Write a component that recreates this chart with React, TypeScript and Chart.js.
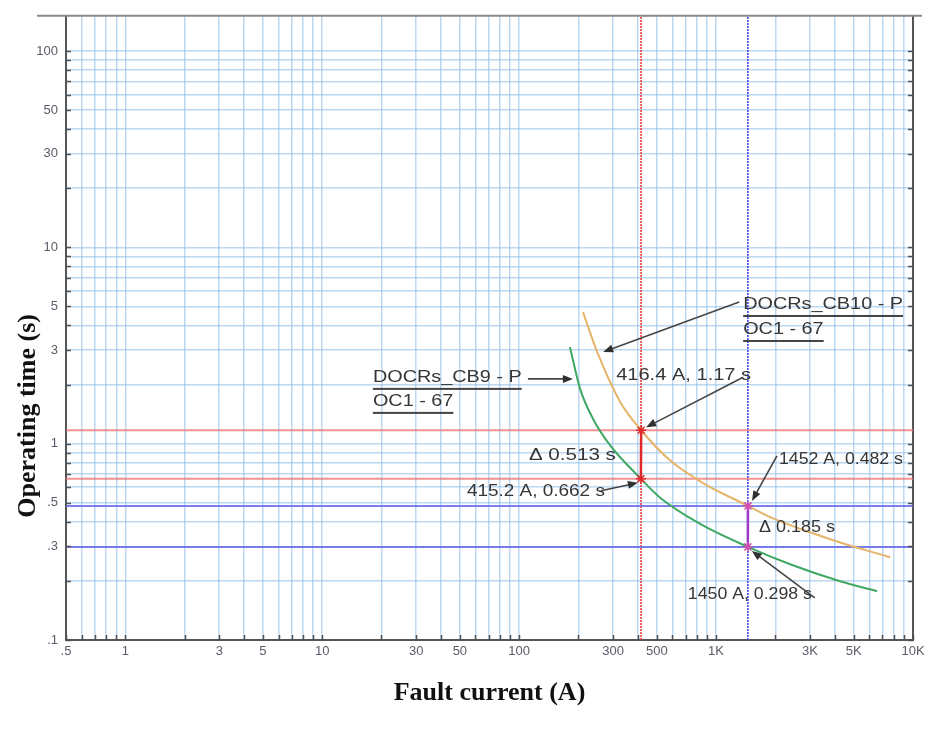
import React, { useEffect, useRef } from 'react';
import { Chart, registerables } from 'chart.js';

Chart.register(...registerables);

// ---- axis ranges and labels ----
const X_MIN = 0.5;
const X_MAX = 10000;
const Y_MIN = 0.1;
const Y_MAX = 151;

const xLabelValues = [0.5, 1, 3, 5, 10, 30, 50, 100, 300, 500, 1000, 3000, 5000, 10000];
const xLabelTexts = ['.5', '1', '3', '5', '10', '30', '50', '100', '300', '500', '1K', '3K', '5K', '10K'];
const yLabelValues = [0.1, 0.3, 0.5, 1, 3, 5, 10, 30, 50, 100];
const yLabelTexts = ['.1', '.3', '.5', '1', '3', '5', '10', '30', '50', '100'];

const xTitle = 'Fault current (A)';
const yTitle = 'Operating time (s)';

// ---- relay curves ----
const cb10Current = [211, 249, 326, 416.4, 585, 859, 1452, 1949, 2899, 4265, 7655];
const cb10Time = [4.68, 2.93, 1.63, 1.17, 0.82, 0.63, 0.482, 0.416, 0.358, 0.314, 0.264];
const cb9Current = [181, 204, 237, 290, 415.2, 520, 830, 1450, 2377, 4265, 6575];
const cb9Time = [3.11, 1.9, 1.34, 0.98, 0.662, 0.53, 0.39, 0.298, 0.243, 0.199, 0.177];

// ---- reference cursors ----
const redCursorCurrent = 416;
const redCursorTimes = [1.17, 0.662];
const blueCursorCurrent = 1450;
const blueCursorTimes = [0.482, 0.298];

// ---- marked points ----
const redPointCurrent = [416.4, 415.2];
const redPointTime = [1.17, 0.662];
const bluePointCurrent = [1452, 1450];
const bluePointTime = [0.482, 0.298];

// ---- annotation texts ----
const cb10Name = ['DOCRs_CB10 - P', 'OC1 - 67'];
const cb9Name = ['DOCRs_CB9 - P', 'OC1 - 67'];
const redUpperText = '416.4 A, 1.17 s';
const redLowerText = '415.2 A, 0.662 s';
const redDeltaText = '\u0394 0.513 s';
const blueUpperText = '1452 A, 0.482 s';
const blueLowerText = '1450 A, 0.298 s';
const blueDeltaText = '\u0394 0.185 s';

function gridValues(min: number, max: number): number[] {
  const out: number[] = [];
  for (let e = -2; e <= 5; e++) {
    for (let m = 1; m <= 9; m++) {
      const v = parseFloat((m * Math.pow(10, e)).toPrecision(6));
      if (v >= min * 0.9999 && v <= max * 1.0001) out.push(v);
    }
  }
  return out;
}

function labelFor(v: number, vals: number[], texts: string[]): string {
  for (let i = 0; i < vals.length; i++) {
    if (Math.abs(v - vals[i]) / vals[i] < 1e-6) return texts[i];
  }
  return '';
}

const pts = (xs: number[], ys: number[]) => xs.map((x, i) => ({ x, y: ys[i] }));

const TEXT_FONT = '16px "Liberation Sans", Arial, sans-serif';
const H_SCALE = 1.24;

function drawLabel(
  ctx: CanvasRenderingContext2D,
  text: string,
  x: number,
  y: number,
  underline = false,
  width = 0
) {
  ctx.save();
  ctx.font = TEXT_FONT;
  const natural = ctx.measureText(text).width;
  const sx = width > 0 ? width / natural : H_SCALE;
  ctx.translate(x, y);
  ctx.scale(sx, 1);
  ctx.textBaseline = 'middle';
  ctx.textAlign = 'left';
  ctx.fillStyle = '#363636';
  ctx.fillText(text, 0, 0);
  if (underline) {
    ctx.fillStyle = '#444';
    ctx.fillRect(0, 10, natural, 2);
  }
  ctx.restore();
}

function drawArrow(ctx: CanvasRenderingContext2D, x1: number, y1: number, x2: number, y2: number) {
  const a = Math.atan2(y2 - y1, x2 - x1);
  const len = 10;
  const half = 4;
  ctx.save();
  ctx.strokeStyle = '#454545';
  ctx.fillStyle = '#303030';
  ctx.lineWidth = 1.6;
  ctx.beginPath();
  ctx.moveTo(x1, y1);
  ctx.lineTo(x2 - Math.cos(a) * len * 0.8, y2 - Math.sin(a) * len * 0.8);
  ctx.stroke();
  ctx.beginPath();
  ctx.moveTo(x2, y2);
  ctx.lineTo(x2 - Math.cos(a) * len - Math.sin(a) * half, y2 - Math.sin(a) * len + Math.cos(a) * half);
  ctx.lineTo(x2 - Math.cos(a) * len + Math.sin(a) * half, y2 - Math.sin(a) * len - Math.cos(a) * half);
  ctx.closePath();
  ctx.fill();
  ctx.restore();
}

const overlayPlugin = {
  id: 'overlay',
  afterDraw(chart: any) {
    const { ctx, chartArea: ca, scales } = chart;
    const xs = scales.x;
    const ys = scales.y;
    const P = (x: number, y: number) => [xs.getPixelForValue(x), ys.getPixelForValue(y)];

    ctx.save();
    // top frame line
    ctx.strokeStyle = '#8a8a8a';
    ctx.lineWidth = 2;
    ctx.beginPath();
    ctx.moveTo(ca.left - 29, ca.top);
    ctx.lineTo(ca.right + 9, ca.top);
    ctx.stroke();

    // inside tick marks
    ctx.strokeStyle = '#505050';
    ctx.lineWidth = 1.5;
    ctx.beginPath();
    xs.ticks.forEach((t: any) => {
      const px = Math.round(xs.getPixelForValue(t.value)) + 0.5;
      ctx.moveTo(px, ca.bottom);
      ctx.lineTo(px, ca.bottom - 5);
    });
    ys.ticks.forEach((t: any) => {
      const py = Math.round(ys.getPixelForValue(t.value)) + 0.5;
      ctx.moveTo(ca.left, py);
      ctx.lineTo(ca.left + 5, py);
      ctx.moveTo(ca.right, py);
      ctx.lineTo(ca.right - 5, py);
    });
    ctx.stroke();

    // axis titles
    ctx.fillStyle = '#111';
    ctx.font = 'bold 26px "Liberation Serif", "Times New Roman", serif';
    ctx.textAlign = 'center';
    ctx.textBaseline = 'middle';
    ctx.fillText(xTitle, (ca.left + ca.right) / 2, ca.bottom + 53);
    ctx.save();
    ctx.translate(28, (ca.top + ca.bottom) / 2 + 88);
    ctx.rotate(-Math.PI / 2);
    ctx.fillText(yTitle, 0, 0);
    ctx.restore();

    // CB10 name + arrow
    const [ax, ay] = P(cb10Current[1], cb10Time[1]);
    drawLabel(ctx, cb10Name[0], ax + 146, ay - 47, true);
    drawLabel(ctx, cb10Name[1], ax + 146, ay - 22, true);
    drawArrow(ctx, ax + 142, ay - 50, ax + 6, ay);

    // CB9 name + arrow
    const [bx, by] = P(cb9Current[0], cb9Time[0]);
    drawLabel(ctx, cb9Name[0], bx - 197, by + 31, true);
    drawLabel(ctx, cb9Name[1], bx - 197, by + 55, true);
    drawArrow(ctx, bx - 42, by + 32, bx + 3, by + 32);

    // red cursor annotations
    const [r1x, r1y] = P(redPointCurrent[0], redPointTime[0]);
    const [r2x, r2y] = P(redPointCurrent[1], redPointTime[1]);
    drawLabel(ctx, redUpperText, r1x - 25, r1y - 55, false, 135);
    drawArrow(ctx, r1x + 102, r1y - 53, r1x + 5, r1y - 3);
    drawLabel(ctx, redDeltaText, r2x - 112, r2y - 23, false, 87);
    drawLabel(ctx, redLowerText, r2x - 174, r2y + 13, false, 138);
    drawArrow(ctx, r2x - 40, r2y + 12, r2x - 3, r2y + 4);

    // blue cursor annotations
    const [s1x, s1y] = P(bluePointCurrent[0], bluePointTime[0]);
    const [s2x, s2y] = P(bluePointCurrent[1], bluePointTime[1]);
    drawLabel(ctx, blueUpperText, s1x + 31, s1y - 46, false, 124);
    drawArrow(ctx, s1x + 29, s1y - 50, s1x + 4, s1y - 5);
    drawLabel(ctx, blueDeltaText, s1x + 11, s1y + 22, false, 76);
    drawLabel(ctx, blueLowerText, s2x - 60, s2y + 48, false, 124);
    drawArrow(ctx, s2x + 67, s2y + 51, s2x + 4, s2y + 4);

    ctx.restore();
  },
};

export default function App() {
  const ref = useRef<HTMLCanvasElement | null>(null);

  useEffect(() => {
    if (!ref.current) return;
    const xGrid = gridValues(X_MIN, X_MAX);
    const yGrid = gridValues(Y_MIN, Y_MAX);
    const gridColor = 'rgba(145, 192, 232, 0.6)';
    const tickFont = { family: '"Liberation Sans", Arial, sans-serif', size: 13 };

    const hLine = (t: number) => [{ x: X_MIN, y: t }, { x: X_MAX, y: t }];
    const vLine = (c: number) => [{ x: c, y: Y_MIN }, { x: c, y: Y_MAX }];

    const refLine = (data: any[], color: string, width: number, dash: number[] = []) => ({
      data,
      borderColor: color,
      borderWidth: width,
      borderDash: dash,
      showLine: true,
      pointRadius: 0,
      order: 5,
    });

    const chart = new Chart(ref.current, {
      type: 'scatter',
      data: {
        datasets: [
          ...redCursorTimes.map((t) => refLine(hLine(t), 'rgba(238, 110, 110, 0.75)', 2)),
          ...blueCursorTimes.map((t) => refLine(hLine(t), 'rgba(105, 105, 230, 0.85)', 2)),
          refLine(vLine(redCursorCurrent), '#f03a3a', 1.6, [2, 1]),
          refLine(vLine(blueCursorCurrent), '#4646ee', 1.6, [2, 1]),
          {
            label: 'DOCRs_CB10 - P OC1 - 67',
            data: pts(cb10Current, cb10Time),
            borderColor: '#e6b469',
            borderWidth: 2,
            showLine: true,
            pointRadius: 0,
            cubicInterpolationMode: 'monotone',
            order: 2,
          },
          {
            label: 'DOCRs_CB9 - P OC1 - 67',
            data: pts(cb9Current, cb9Time),
            borderColor: '#3fa862',
            borderWidth: 2,
            showLine: true,
            pointRadius: 0,
            cubicInterpolationMode: 'monotone',
            order: 2,
          },
          {
            data: pts(redPointCurrent, redPointTime),
            borderColor: '#e02828',
            borderWidth: 2.5,
            showLine: true,
            pointStyle: 'star',
            pointRadius: 5,
            pointBorderColor: '#e02828',
            pointBorderWidth: 1.5,
            order: 1,
          },
          {
            data: pts(bluePointCurrent, bluePointTime),
            borderColor: '#9a3cc8',
            borderWidth: 2.5,
            showLine: true,
            pointStyle: 'star',
            pointRadius: 5,
            pointBorderColor: '#d050b0',
            pointBorderWidth: 1.5,
            order: 1,
          },
        ],
      },
      options: {
        animation: false,
        responsive: false,
        maintainAspectRatio: false,
        layout: { padding: { top: 13, left: 0, right: 0, bottom: 0 } },
        plugins: { legend: { display: false }, tooltip: { enabled: false } },
        scales: {
          x: {
            type: 'logarithmic',
            position: 'bottom',
            min: X_MIN,
            max: X_MAX,
            afterBuildTicks: (s: any) => {
              s.ticks = xGrid.map((v) => ({ value: v }));
            },
            afterFit: (s: any) => {
              s.height = 89;
            },
            ticks: {
              autoSkip: false,
              maxRotation: 0,
              padding: 4,
              color: '#5c5a68',
              font: tickFont,
              callback: (v: any) => labelFor(Number(v), xLabelValues, xLabelTexts),
            },
            grid: { color: gridColor, lineWidth: 1.5, drawTicks: false },
            border: { color: '#555', width: 2 },
          },
          y: {
            type: 'logarithmic',
            position: 'left',
            min: Y_MIN,
            max: Y_MAX,
            afterBuildTicks: (s: any) => {
              s.ticks = yGrid.map((v) => ({ value: v }));
            },
            afterFit: (s: any) => {
              s.width = 66;
            },
            ticks: {
              autoSkip: false,
              padding: 8,
              color: '#5c5a68',
              font: tickFont,
              callback: (v: any) => labelFor(Number(v), yLabelValues, yLabelTexts),
            },
            grid: { color: gridColor, lineWidth: 1.5, drawTicks: false },
            border: { color: '#555', width: 2 },
          },
          y2: {
            type: 'logarithmic',
            position: 'right',
            min: Y_MIN,
            max: Y_MAX,
            afterFit: (s: any) => {
              s.width = 16;
            },
            ticks: { display: false },
            grid: { drawOnChartArea: false, drawTicks: false },
            border: { color: '#555', width: 2 },
          },
        },
      } as any,
      plugins: [overlayPlugin],
    });
    return () => chart.destroy();
  }, []);

  return (
    <div style={{ position: 'absolute', left: 0, top: 0, width: 929, height: 729, background: '#fff' }}>
      <canvas ref={ref} width={929} height={729} />
    </div>
  );
}
